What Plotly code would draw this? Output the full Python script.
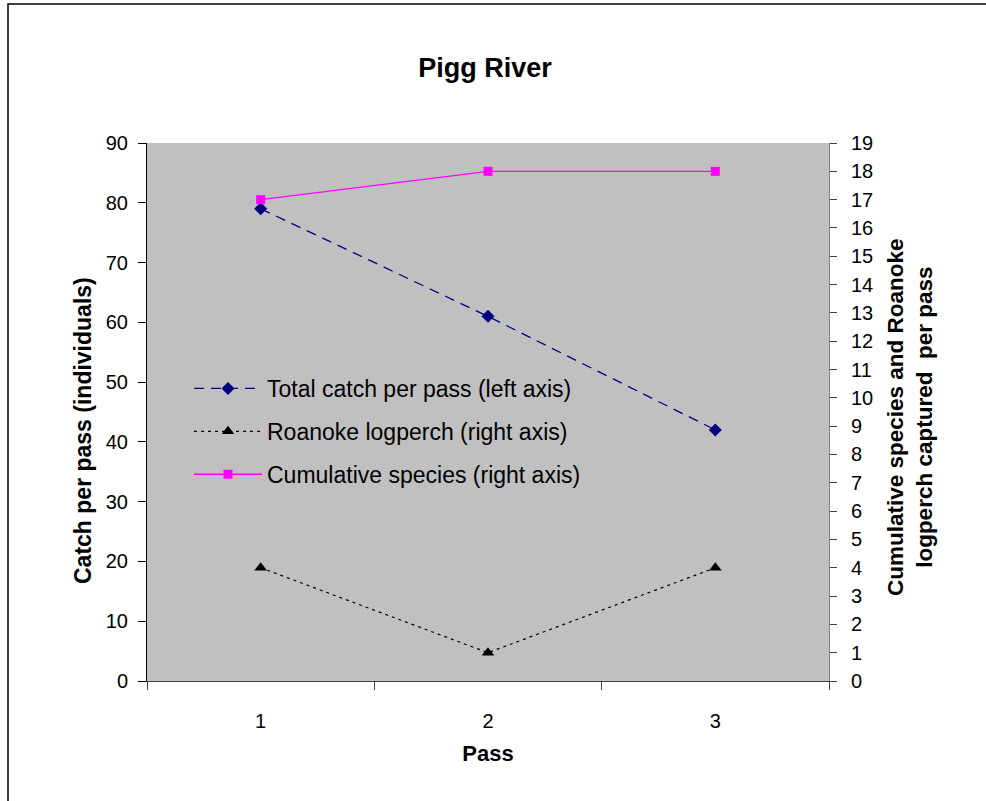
import plotly.graph_objects as go

passes = ["1", "2", "3"]
total_catch = [79, 61, 42]
roanoke_logperch = [4, 1, 4]
cumulative_species = [17, 18, 18]

W, H = 986, 801
# plot area in screenshot pixels
L, R, T, B = 147, 829, 143, 681


def px(xi):
    return (xi - L) / (R - L)


def py(yi):
    return (B - yi) / (B - T)


fig = go.Figure()
fig.add_trace(go.Scatter(
    x=passes, y=total_catch, name="Total catch per pass (left axis)",
    mode="lines+markers", legendgroup="a",
    line=dict(color="#000080", width=1.3, dash="10px,7px"),
    marker=dict(symbol="diamond", size=10, color="#000080"), yaxis="y"))
fig.add_trace(go.Scatter(
    x=passes, y=roanoke_logperch, name="Roanoke logperch (right axis)",
    mode="lines+markers", legendgroup="b",
    line=dict(color="black", width=1.2, dash="3px,4px"),
    marker=dict(symbol="triangle-up", size=11, color="black"), yaxis="y2"))
fig.add_trace(go.Scatter(
    x=passes, y=cumulative_species, name="Cumulative species (right axis)",
    mode="lines+markers", legendgroup="c",
    line=dict(color="#FF00FF", width=1.3),
    marker=dict(symbol="square", size=9, color="#FF00FF"), yaxis="y2"))

font = dict(family="Arial, Liberation Sans, sans-serif", size=20, color="black")

fig.update_layout(
    width=W, height=H,
    margin=dict(l=L, r=W - R, t=T, b=H - B, pad=0),
    paper_bgcolor="white", plot_bgcolor="#C0C0C0",
    font=font,
    title=dict(text="<b>Pigg River</b>", x=485 / W, xanchor="center",
               y=1 - 68 / H, yanchor="middle", font=dict(size=27)),
    xaxis=dict(type="category", range=[-0.5, 2.5], tickson="boundaries",
               ticks="outside", ticklen=8, tickcolor="#404040",
               showline=True, linecolor="#404040", linewidth=1,
               showgrid=False, zeroline=False, tickfont=dict(size=20),
               ticklabelstandoff=22,
               title=dict(text="<b>Pass</b>", standoff=14, font=dict(size=22))),
    yaxis=dict(range=[0, 90], dtick=10, ticks="outside", ticklen=8,
               tickcolor="black", showline=True, linecolor="black",
               linewidth=1, showgrid=False, zeroline=False,
               ticklabelstandoff=6),
    yaxis2=dict(range=[0, 19], dtick=1, overlaying="y", side="right",
                ticks="outside", ticklen=7, tickcolor="#404040",
                showline=True, linecolor="#808080", linewidth=1,
                showgrid=False, zeroline=False, ticklabelstandoff=10),
    yaxis3=dict(range=[0, 90], dtick=10, overlaying="y", side="left",
                ticks="inside", ticklen=6, tickcolor="black",
                showticklabels=False, showline=False, showgrid=False,
                zeroline=False),
    yaxis4=dict(range=[0, 19], dtick=1, overlaying="y", side="right",
                ticks="inside", ticklen=6, tickcolor="#404040",
                showticklabels=False, showline=False, showgrid=False,
                zeroline=False),
    legend=dict(x=px(189), y=py(367),
                xanchor="left", yanchor="top", bgcolor="rgba(0,0,0,0)",
                itemwidth=68, tracegroupgap=10, traceorder="grouped",
                font=dict(size=23)),
    showlegend=True,
)

fig.add_annotation(
    text="<b>Catch per pass (individuals)</b>",
    textangle=-90, xref="paper", yref="paper",
    x=px(83), y=py(431),
    xanchor="center", yanchor="middle", showarrow=False,
    font=dict(size=23))

fig.add_annotation(
    text="<b>Cumulative species and Roanoke<br>logperch captured  per pass</b>",
    textangle=-90, xref="paper", yref="paper",
    x=px(910), y=py(417),
    xanchor="center", yanchor="middle", showarrow=False,
    font=dict(size=22.5), align="center")

fig.add_shape(type="rect", xref="paper", yref="paper",
              x0=px(8), x1=px(1100), y0=py(900), y1=py(4),
              line=dict(color="black", width=1.5), layer="below")

fig.write_html("out.html", config={"displayModeBar": False},
               post_script="document.body.style.margin='0';")
